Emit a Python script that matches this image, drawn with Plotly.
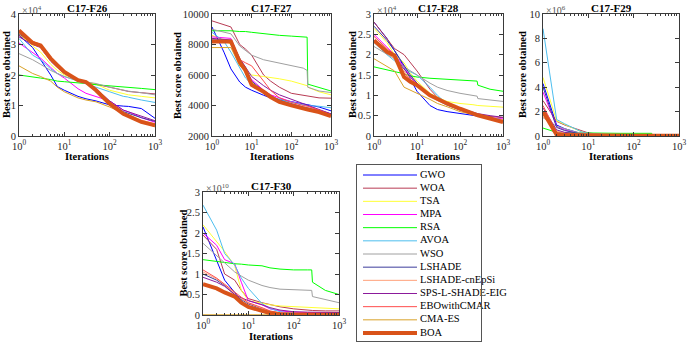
import plotly.graph_objects as go

# ---------------- data ----------------
ALGOS = ["GWO", "WOA", "TSA", "MPA", "RSA", "AVOA", "WSO", "LSHADE",
         "LSHADE-cnEpSi", "SPS-L-SHADE-EIG", "EBOwithCMAR", "CMA-ES", "BOA"]
COLORS = ["#0000FF", "#B83B54", "#FFFF33", "#FF00FF", "#00FF00", "#4DBEEE", "#A0A0A0",
          "#3C3C9C", "#FFA07A", "#8B1A9B", "#FF4D4D", "#D9A228", "#D95319"]

ITER = [1, 2, 3, 5, 7, 10, 20, 30, 50, 100, 200, 250, 260, 500, 1000]

# C17-F26 (x1e4)
F26 = {
    "GWO":  [3.3, 2.9, 2.5, 2.0, 1.62, 1.5, 1.3, 1.22, 1.15, 1.02, 0.98, 0.97, 0.97, 0.9, 0.58],
    "WOA":  [3.3, 3.05, 2.95, 2.55, 2.3, 2.1, 1.82, 1.76, 1.7, 1.6, 1.5, 1.47, 1.46, 1.42, 1.38],
    "TSA":  [3.35, 2.95, 2.75, 2.35, 2.15, 2.0, 1.85, 1.78, 1.7, 1.5, 1.38, 1.35, 1.35, 1.3, 1.25],
    "MPA":  [3.05, 2.75, 2.55, 2.25, 2.05, 1.9, 1.55, 1.4, 1.3, 1.15, 0.85, 0.8, 0.79, 0.6, 0.45],
    "RSA":  [2.0, 1.95, 1.9, 1.85, 1.8, 1.78, 1.75, 1.72, 1.68, 1.65, 1.6, 1.59, 1.59, 1.56, 1.52],
    "AVOA": [3.2, 2.65, 2.5, 2.2, 2.05, 1.95, 1.8, 1.7, 1.6, 1.45, 1.3, 1.28, 1.27, 1.18, 1.1],
    "WSO":  [2.7, 2.5, 2.35, 2.15, 2.05, 1.95, 1.82, 1.78, 1.72, 1.6, 1.5, 1.48, 1.47, 1.42, 1.35],
    "LSHADE": [3.35, 3.05, 2.95, 2.5, 2.28, 2.08, 1.82, 1.75, 1.52, 1.1, 0.8, 0.75, 0.74, 0.6, 0.48],
    "LSHADE-cnEpSi": [3.4, 3.1, 3.0, 2.52, 2.3, 2.1, 1.83, 1.76, 1.5, 1.08, 0.76, 0.7, 0.69, 0.52, 0.4],
    "SPS-L-SHADE-EIG": [3.25, 3.0, 2.9, 2.45, 2.25, 2.05, 1.8, 1.74, 1.55, 1.15, 0.85, 0.8, 0.79, 0.65, 0.5],
    "EBOwithCMAR": [3.45, 3.1, 3.0, 2.55, 2.32, 2.1, 1.84, 1.77, 1.5, 1.06, 0.74, 0.68, 0.67, 0.48, 0.38],
    "CMA-ES": [2.3, 2.05, 1.95, 1.8, 1.6, 1.45, 1.25, 1.18, 1.12, 0.95, 0.75, 0.7, 0.69, 0.5, 0.3],
    "BOA":  [3.46, 3.05, 2.97, 2.54, 2.32, 2.1, 1.83, 1.77, 1.5, 1.06, 0.73, 0.67, 0.66, 0.46, 0.35],
}

# C17-F27
F27 = {
    "GWO":  [9150, 7500, 6400, 5540, 5200, 5000, 4670, 4500, 4400, 4270, 4100, 4050, 4050, 3900, 3650],
    "WOA":  [9550, 9300, 9150, 8000, 7700, 7300, 6000, 5600, 5200, 4800, 4650, 4600, 4600, 4500, 4480],
    "TSA":  [8600, 8300, 8000, 6600, 6300, 6000, 5900, 5850, 5750, 5600, 5400, 5300, 5200, 4900, 4700],
    "MPA":  [8500, 8450, 8400, 7000, 6300, 5700, 5000, 4700, 4500, 4250, 4050, 4000, 3990, 3700, 3450],
    "RSA":  [8900, 8900, 8900, 8850, 8850, 8800, 8700, 8650, 8600, 8550, 8500, 8480, 5400, 5200, 4950],
    "AVOA": [8800, 8200, 7500, 6500, 5800, 5400, 4900, 4600, 4400, 4200, 4050, 4000, 4000, 3950, 3850],
    "WSO":  [9000, 8800, 8700, 7900, 7600, 7300, 7000, 6900, 6800, 6650, 6450, 6300, 5200, 4950, 4850],
    "LSHADE": [8300, 8300, 8250, 7000, 6500, 5600, 4950, 4650, 4350, 4100, 3900, 3850, 3840, 3650, 3450],
    "LSHADE-cnEpSi": [8200, 8200, 8150, 6900, 6400, 5500, 4900, 4600, 4300, 4050, 3850, 3800, 3790, 3600, 3400],
    "SPS-L-SHADE-EIG": [8400, 8350, 8300, 7100, 6500, 5900, 5300, 5000, 4700, 4400, 4100, 4000, 3990, 3700, 3450],
    "EBOwithCMAR": [8250, 8250, 8200, 7000, 6800, 6600, 5600, 5000, 4500, 4200, 4000, 3950, 3940, 3700, 3400],
    "CMA-ES": [7800, 7800, 7800, 6600, 6300, 5500, 4900, 4600, 4300, 4050, 3850, 3800, 3790, 3580, 3350],
    "BOA":  [8200, 8200, 8200, 6850, 6300, 5350, 4900, 4560, 4230, 4010, 3790, 3750, 3740, 3570, 3300],
}

# C17-F28 (x1e4)
F28 = {
    "GWO":  [2.8, 2.4, 2.1, 1.7, 1.4, 1.1, 0.75, 0.65, 0.6, 0.55, 0.5, 0.49, 0.49, 0.45, 0.4],
    "WOA":  [2.8, 2.4, 2.15, 2.0, 1.8, 1.6, 1.15, 0.95, 0.8, 0.65, 0.55, 0.53, 0.53, 0.48, 0.45],
    "TSA":  [2.65, 2.3, 2.0, 1.8, 1.55, 1.35, 1.05, 0.95, 0.85, 0.8, 0.77, 0.75, 0.75, 0.73, 0.71],
    "MPA":  [2.5, 2.2, 2.0, 1.7, 1.45, 1.25, 0.98, 0.88, 0.77, 0.64, 0.54, 0.52, 0.52, 0.45, 0.42],
    "RSA":  [1.7, 1.63, 1.58, 1.53, 1.48, 1.45, 1.42, 1.41, 1.4, 1.38, 1.36, 1.35, 1.25, 1.15, 1.1],
    "AVOA": [2.3, 2.0, 1.85, 1.65, 1.58, 1.5, 1.2, 1.0, 0.78, 0.65, 0.55, 0.53, 0.53, 0.45, 0.4],
    "WSO":  [2.2, 2.0, 1.9, 1.7, 1.6, 1.5, 1.3, 1.2, 1.12, 1.05, 1.0, 0.98, 0.92, 0.88, 0.85],
    "LSHADE": [2.7, 2.35, 2.1, 1.75, 1.5, 1.3, 1.0, 0.88, 0.76, 0.64, 0.54, 0.52, 0.51, 0.43, 0.38],
    "LSHADE-cnEpSi": [2.3, 2.05, 1.9, 1.6, 1.4, 1.25, 0.98, 0.88, 0.77, 0.65, 0.54, 0.52, 0.51, 0.43, 0.4],
    "SPS-L-SHADE-EIG": [2.35, 2.1, 1.95, 1.65, 1.45, 1.3, 1.02, 0.92, 0.8, 0.68, 0.58, 0.56, 0.55, 0.5, 0.46],
    "EBOwithCMAR": [2.45, 2.15, 2.0, 1.55, 1.38, 1.28, 1.02, 0.9, 0.8, 0.67, 0.55, 0.52, 0.51, 0.42, 0.35],
    "CMA-ES": [1.9, 1.7, 1.6, 1.2, 1.12, 1.05, 0.9, 0.8, 0.72, 0.6, 0.53, 0.5, 0.5, 0.43, 0.38],
    "BOA":  [2.35, 2.07, 1.98, 1.45, 1.33, 1.25, 1.0, 0.9, 0.8, 0.67, 0.55, 0.52, 0.51, 0.43, 0.34],
}

# C17-F29 (x1e6)
F29 = {
    "GWO":  [4.3, 0.9, 0.6, 0.35, 0.2, 0.12, 0.08, 0.06, 0.05, 0.04, 0.03, 0.03, 0.03, 0.02, 0.02],
    "WOA":  [2.9, 1.2, 0.9, 0.6, 0.4, 0.25, 0.12, 0.08, 0.06, 0.05, 0.04, 0.04, 0.04, 0.03, 0.03],
    "TSA":  [4.8, 1.25, 0.95, 0.6, 0.35, 0.2, 0.1, 0.08, 0.06, 0.05, 0.05, 0.05, 0.05, 0.04, 0.04],
    "MPA":  [3.6, 0.8, 0.5, 0.3, 0.15, 0.1, 0.06, 0.05, 0.04, 0.03, 0.03, 0.03, 0.03, 0.02, 0.02],
    "RSA":  [0.65, 0.3, 0.27, 0.25, 0.24, 0.23, 0.23, 0.22, 0.22, 0.22, 0.22, 0.22, 0.05, 0.04, 0.04],
    "AVOA": [8.8, 1.35, 1.0, 0.6, 0.35, 0.2, 0.1, 0.07, 0.05, 0.04, 0.04, 0.04, 0.04, 0.03, 0.03],
    "WSO":  [1.5, 0.8, 0.6, 0.35, 0.25, 0.2, 0.15, 0.12, 0.1, 0.09, 0.08, 0.08, 0.07, 0.06, 0.05],
    "LSHADE": [4.0, 0.7, 0.45, 0.25, 0.15, 0.1, 0.06, 0.05, 0.04, 0.03, 0.03, 0.03, 0.03, 0.02, 0.02],
    "LSHADE-cnEpSi": [1.6, 0.4, 0.25, 0.15, 0.1, 0.07, 0.05, 0.04, 0.03, 0.03, 0.02, 0.02, 0.02, 0.02, 0.02],
    "SPS-L-SHADE-EIG": [2.3, 0.5, 0.3, 0.2, 0.12, 0.08, 0.05, 0.04, 0.03, 0.03, 0.02, 0.02, 0.02, 0.02, 0.02],
    "EBOwithCMAR": [2.5, 0.3, 0.2, 0.12, 0.08, 0.06, 0.04, 0.03, 0.03, 0.02, 0.02, 0.02, 0.02, 0.02, 0.02],
    "CMA-ES": [1.8, 0.2, 0.12, 0.08, 0.06, 0.05, 0.04, 0.03, 0.03, 0.02, 0.02, 0.02, 0.02, 0.02, 0.02],
    "BOA":  [2.0, 0.1, 0.08, 0.06, 0.05, 0.04, 0.03, 0.03, 0.02, 0.02, 0.02, 0.02, 0.02, 0.02, 0.02],
}

# C17-F30 (x1e10)
F30 = {
    "GWO":  [2.15, 1.3, 0.85, 0.55, 0.35, 0.2, 0.1, 0.06, 0.03, 0.02, 0.01, 0.01, 0.01, 0.01, 0.01],
    "WOA":  [1.95, 1.6, 1.0, 0.85, 0.6, 0.4, 0.3, 0.25, 0.2, 0.15, 0.12, 0.11, 0.11, 0.1, 0.1],
    "TSA":  [2.2, 1.8, 1.55, 1.2, 0.6, 0.35, 0.28, 0.25, 0.22, 0.2, 0.18, 0.18, 0.18, 0.16, 0.15],
    "MPA":  [2.0, 1.7, 1.35, 1.25, 0.8, 0.35, 0.25, 0.15, 0.1, 0.07, 0.06, 0.06, 0.06, 0.05, 0.05],
    "RSA":  [1.35, 1.3, 1.28, 1.25, 1.24, 1.22, 1.2, 1.15, 1.12, 1.1, 1.1, 1.1, 0.8, 0.6, 0.5],
    "AVOA": [2.68, 2.07, 1.5, 1.22, 0.9, 0.65, 0.28, 0.16, 0.08, 0.04, 0.03, 0.03, 0.03, 0.02, 0.02],
    "WSO":  [1.75, 1.45, 1.25, 1.05, 0.95, 0.85, 0.72, 0.67, 0.63, 0.61, 0.6, 0.6, 0.45, 0.38, 0.3],
    "LSHADE": [1.0, 0.85, 0.72, 0.5, 0.38, 0.27, 0.15, 0.08, 0.04, 0.02, 0.01, 0.01, 0.01, 0.01, 0.01],
    "LSHADE-cnEpSi": [1.05, 0.88, 0.74, 0.52, 0.4, 0.29, 0.16, 0.09, 0.05, 0.03, 0.02, 0.02, 0.02, 0.01, 0.01],
    "SPS-L-SHADE-EIG": [0.92, 0.8, 0.7, 0.5, 0.42, 0.35, 0.25, 0.18, 0.12, 0.08, 0.07, 0.07, 0.07, 0.06, 0.06],
    "EBOwithCMAR": [1.1, 0.9, 0.75, 0.55, 0.42, 0.3, 0.18, 0.1, 0.05, 0.03, 0.02, 0.02, 0.02, 0.02, 0.02],
    "CMA-ES": [0.005, 0.005, 0.005, 0.005, 0.005, 0.005, 0.005, 0.005, 0.005, 0.005, 0.005, 0.005, 0.005, 0.005, 0.005],
    "BOA":  [0.75, 0.65, 0.55, 0.45, 0.3, 0.2, 0.1, 0.05, 0.02, 0.01, 0.005, 0.005, 0.005, 0.005, 0.005],
}

X_TICKS = [1, 10, 100, 1000]
X_TICKTEXT = ["10<sup>0</sup>", "10<sup>1</sup>", "10<sup>2</sup>", "10<sup>3</sup>"]

# ---------------- layout ----------------
W, H = 687, 344
FONT = "Liberation Serif, Times New Roman, serif"
AX = "#3a3a3a"

def fx(p):
    return p / W

def fy(p):
    return 1 - p / H

panels = [
    dict(title="C17-F26", data=F26, box=(19, 155, 14, 136), yr=[0, 4], yt=[0, 1, 2, 3, 4],
         ytt=["0", "1", "2", "3", "4"], exp="4", ylab=7),
    dict(title="C17-F27", data=F27, box=(212, 331, 14, 136), yr=[2000, 10000],
         yt=[2000, 4000, 6000, 8000, 10000], ytt=["2000", "4000", "6000", "8000", "10000"],
         exp=None, ylab=178),
    dict(title="C17-F28", data=F28, box=(374, 503, 14, 136), yr=[0, 3],
         yt=[0, 0.5, 1, 1.5, 2, 2.5, 3], ytt=["0", "0.5", "1", "1.5", "2", "2.5", "3"],
         exp="4", ylab=353),
    dict(title="C17-F29", data=F29, box=(543, 679, 14, 136), yr=[0, 10],
         yt=[0, 2, 4, 6, 8, 10], ytt=["0", "2", "4", "6", "8", "10"], exp="6", ylab=523),
    dict(title="C17-F30", data=F30, box=(203, 339, 192, 315), yr=[0, 3],
         yt=[0, 0.5, 1, 1.5, 2, 2.5, 3], ytt=["0", "0.5", "1", "1.5", "2", "2.5", "3"],
         exp="10", ylab=183),
]

minor_vals = []
for dec in [1, 10, 100]:
    for k in range(2, 10):
        minor_vals.append(k * dec)

fig = go.Figure()
layout = dict(width=W, height=H, margin=dict(l=0, r=0, t=0, b=0, autoexpand=False),
              paper_bgcolor="white", plot_bgcolor="white", showlegend=False,
              font=dict(family=FONT, size=10, color="#262626"))
annotations = []

for i, p in enumerate(panels, start=1):
    x0, x1, y0, y1 = p["box"]
    xa = "xaxis" if i == 1 else f"xaxis{i}"
    ya = "yaxis" if i == 1 else f"yaxis{i}"
    xref = "x" if i == 1 else f"x{i}"
    yref = "y" if i == 1 else f"y{i}"
    layout[xa] = dict(type="log", range=[0, 3], domain=[fx(x0), fx(x1)], anchor=yref,
                      showline=True, linecolor=AX, linewidth=1, mirror="allticks",
                      ticks="inside", ticklen=4, tickcolor=AX, tickwidth=1,
                      tickvals=X_TICKS, ticktext=X_TICKTEXT, showgrid=False, zeroline=False,
                      tickfont=dict(family=FONT, size=10.5, color="#262626"),
                      minor=dict(ticks="inside", ticklen=2, tickcolor=AX, tickvals=minor_vals,
                                 showgrid=False))
    layout[ya] = dict(range=p["yr"], domain=[fy(y1), fy(y0)], anchor=xref,
                      showline=True, linecolor=AX, linewidth=1, mirror="allticks",
                      ticks="inside", ticklen=4, tickcolor=AX, tickwidth=1,
                      tickvals=p["yt"], ticktext=p["ytt"], showgrid=False, zeroline=False,
                      tickfont=dict(family=FONT, size=10.5, color="#262626"))
    for name, col in zip(ALGOS, COLORS):
        fig.add_trace(go.Scatter(x=ITER, y=p["data"][name], mode="lines", name=name,
                                 line=dict(color=col, width=4 if name == "BOA" else 1),
                                 xaxis=xref, yaxis=yref, showlegend=False))
    cx = (x0 + x1) / 2
    annotations.append(dict(text="<b>" + p["title"] + "</b>", x=fx(cx), y=fy(y0 - 6),
                            xref="paper", yref="paper", showarrow=False,
                            font=dict(family=FONT, size=11, color="black"),
                            xanchor="center", yanchor="middle"))
    annotations.append(dict(text="<b>Iterations</b>", x=fx(cx), y=fy(y1 + 21),
                            xref="paper", yref="paper", showarrow=False,
                            font=dict(family=FONT, size=10.5, color="black"),
                            xanchor="center", yanchor="middle"))
    annotations.append(dict(text="<b>Best score obtained</b>", x=fx(p["ylab"]),
                            y=fy((y0 + y1) / 2), xref="paper", yref="paper",
                            showarrow=False, textangle=-90,
                            font=dict(family=FONT, size=10.5, color="black"),
                            xanchor="center", yanchor="middle"))
    if p["exp"]:
        annotations.append(dict(text="\u00d710<sup>" + p["exp"] + "</sup>", x=fx(x0 + 1),
                                y=fy(y0 - 4), xref="paper", yref="paper", showarrow=False,
                                font=dict(family=FONT, size=10, color="#555555"),
                                xanchor="left", yanchor="middle"))

# ---------------- legend (drawn in its own small axes) ----------------
LX0, LX1, LY0, LY1 = 357, 481, 165, 341
layout["xaxis6"] = dict(domain=[fx(LX0), fx(LX1)], range=[0, LX1 - LX0], anchor="y6",
                        showline=True, mirror=True, linecolor="#555555", linewidth=1,
                        showticklabels=False, ticks="", showgrid=False, zeroline=False,
                        fixedrange=True)
layout["yaxis6"] = dict(domain=[fy(LY1), fy(LY0)], range=[LY1 - LY0, 0], anchor="x6",
                        showline=True, mirror=True, linecolor="#555555", linewidth=1,
                        showticklabels=False, ticks="", showgrid=False, zeroline=False,
                        fixedrange=True)
row_h = (333 - 175) / 12.0
for k, (name, col) in enumerate(zip(ALGOS, COLORS)):
    ry = 10 + k * row_h
    fig.add_trace(go.Scatter(x=[6, 60], y=[ry, ry], mode="lines",
                             line=dict(color=col, width=4 if name == "BOA" else 1),
                             xaxis="x6", yaxis="y6", showlegend=False, hoverinfo="skip"))
    fig.add_trace(go.Scatter(x=[63], y=[ry], mode="text", text=[name],
                             textposition="middle right",
                             textfont=dict(family=FONT, size=10.5, color="black"),
                             xaxis="x6", yaxis="y6", showlegend=False, hoverinfo="skip",
                             cliponaxis=False))

layout["annotations"] = annotations
fig.update_layout(**layout)
fig.write_html("out.html",
               config={"displayModeBar": False},
               post_script="document.body.style.margin='0px';"
                           "document.body.style.padding='0px';"
                           "document.body.style.overflow='hidden';")
